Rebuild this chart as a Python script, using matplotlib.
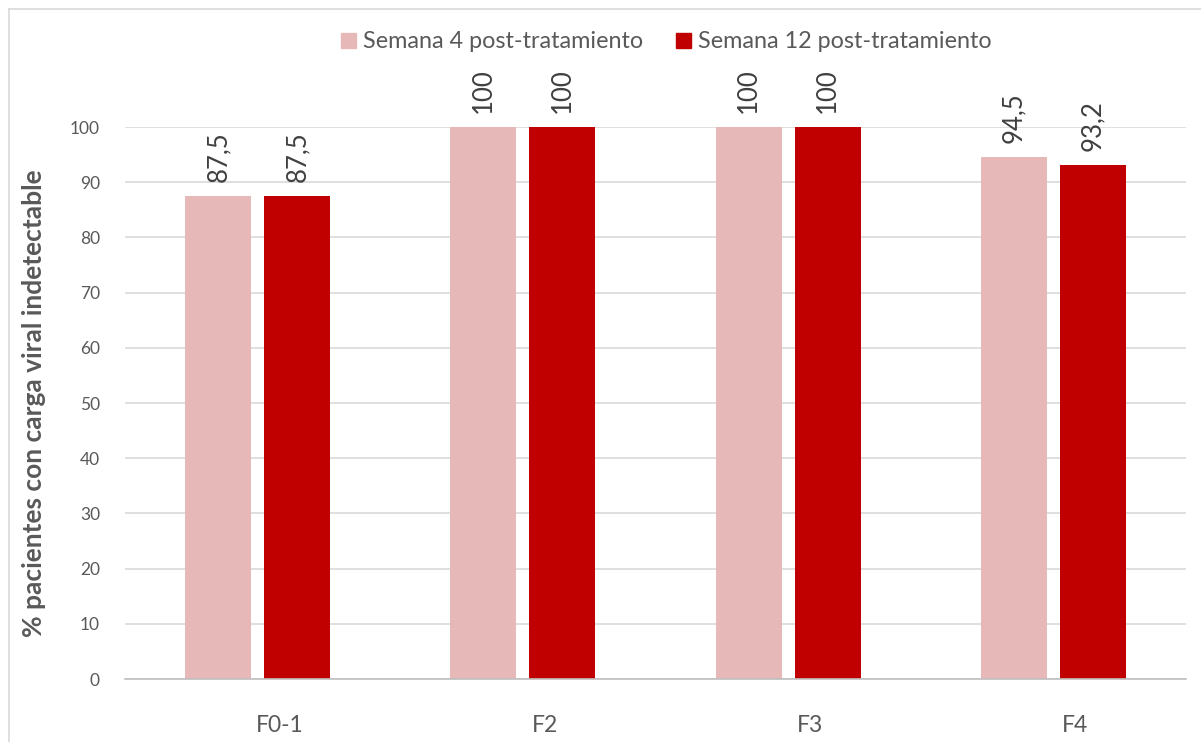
import matplotlib
matplotlib.use("Agg")
import matplotlib.pyplot as plt
import numpy as np
from matplotlib.patches import Patch
from matplotlib.lines import Line2D

categories = ["F0-1", "F2", "F3", "F4"]
semana4 = [87.5, 100, 100, 94.5]
semana12 = [87.5, 100, 100, 93.2]
series_names = ["Semana 4 post-tratamiento", "Semana 12 post-tratamiento"]
yticks = [0, 10, 20, 30, 40, 50, 60, 70, 80, 90, 100]

FONT = ["Lato", "DejaVu Sans"]
plt.rcParams["font.family"] = FONT

light = "#E6B9B8"
dark = "#C00000"
textc = "#595959"

fig = plt.figure(figsize=(12.01, 7.42), dpi=100)
ax = fig.add_axes([125 / 1201, 63 / 742, 1061 / 1201, (679 - 127) / 742])

x = np.arange(len(categories))
w = 0.249
off = 0.149
b1 = ax.bar(x - off, semana4, w, color=light, zorder=3, label=series_names[0])
b2 = ax.bar(x + off, semana12, w, color=dark, zorder=3, label=series_names[1])

def fmt(v):
    s = f"{v:.1f}".replace(".", ",")
    return s[:-2] if s.endswith(",0") else s

for bars, vals in ((b1, semana4), (b2, semana12)):
    for r, v in zip(bars, vals):
        ax.annotate(fmt(v), (r.get_x() + r.get_width() / 2, v), xytext=(0, 14),
                    textcoords="offset pixels", rotation=90, ha="center", va="bottom",
                    fontsize=18.5, color="#404040", annotation_clip=False)

ax.set_xlim(-0.5, 3.5)
ax.set_ylim(0, 100)
ax.set_yticks(yticks)
ax.set_yticklabels([str(t) for t in yticks], fontsize=12.5, color=textc)
ax.set_xticks(x)
ax.set_xticklabels([])
# category names sit a little right of the group centres
for xi, cat in zip(x, categories):
    ax.annotate(cat, (xi, 0), xytext=(22, -46), textcoords="offset pixels",
                ha="center", va="center", fontsize=16.5, color=textc,
                annotation_clip=False)
ax.tick_params(axis="y", length=0, pad=18)
ax.tick_params(axis="x", length=0)
ax.grid(axis="y", color="#D9D9D9", linewidth=1.2, zorder=0)
for s in ["top", "right", "left"]:
    ax.spines[s].set_visible(False)
ax.spines["bottom"].set_color("#BFBFBF")
ax.spines["bottom"].set_linewidth(1.2)
ax.spines["bottom"].set_zorder(4)

ax.set_ylabel("% pacientes con carga viral indetectable", fontsize=19,
              color=textc, fontweight="bold")
ax.yaxis.set_label_coords((46 - 125) / 1061, 0.5)

fig.legend(handles=[Patch(color=light), Patch(color=dark)], labels=series_names,
           loc="center", bbox_to_anchor=(666 / 1201, 1 - 42 / 742), ncol=2,
           frameon=False, fontsize=16.8, handlelength=0.65, handleheight=0.65,
           handletextpad=0.3, columnspacing=1.4, labelcolor=textc)

# outer frame
fig.add_artist(Line2D([9 / 1201, 9 / 1201], [0, 1 - 9 / 742], transform=fig.transFigure,
                      color="#D9D9D9", linewidth=1.2))
fig.add_artist(Line2D([9 / 1201, 1], [1 - 9 / 742, 1 - 9 / 742], transform=fig.transFigure,
                      color="#D9D9D9", linewidth=1.2))

fig.savefig("out.png", dpi=100)
